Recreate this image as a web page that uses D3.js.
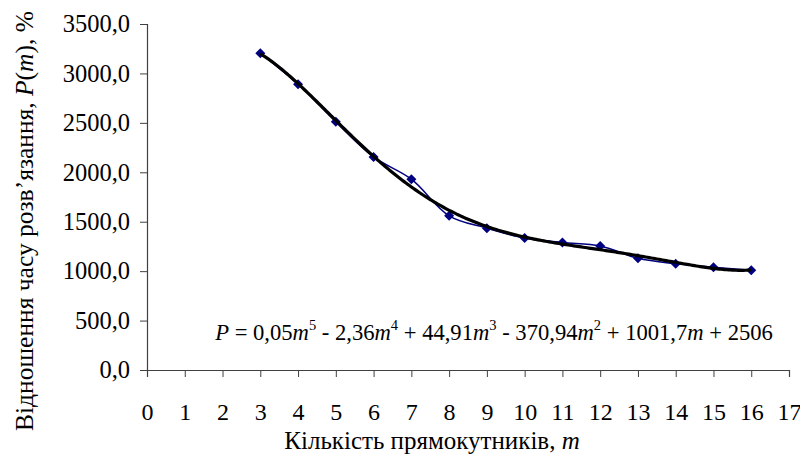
<!DOCTYPE html>
<html>
<head>
<meta charset="utf-8">
<script src="https://cdn.jsdelivr.net/npm/d3@7"></script>
<style>
  body { margin: 0; background: #fff; }
  .axis path, .axis line { stroke: #404040; }
</style>
</head>
<body>
<svg id="chart" width="800" height="457"></svg>
<script>
// data
const mValues = [3, 4, 5, 6, 7, 8, 9, 10, 11, 12, 13, 14, 15, 16];
const pValues = [3205, 2890, 2510, 2155, 1930, 1560, 1435, 1335, 1290, 1255, 1130, 1075, 1040, 1010];
const xTicks = d3.range(0, 18);
const yTicks = [0, 500, 1000, 1500, 2000, 2500, 3000, 3500];
const eqParts = [
  ['P', 'i'], [' = 0,05', ''], ['m', 'i'], ['5', 's'], [' - 2,36', ''], ['m', 'i'], ['4', 's'],
  [' + 44,91', ''], ['m', 'i'], ['3', 's'], [' - 370,94', ''], ['m', 'i'], ['2', 's'],
  [' + 1001,7', ''], ['m', 'i'], [' + 2506', '']
];

const FONT = 'Liberation Serif';
const svg = d3.select('#chart');
const fmt = d => d3.format('.1f')(d).replace('.', ',');

let x = d3.scaleLinear().domain([0, 17]).range([147, 789]),
  y = d3.scaleLinear().domain([0, 3500]).range([370, 24]);

// polynomial trend (order 5), least squares on scaled m
function polyfit(xs, ys, deg) {
  const c = 9.5, s = 6.5, n = deg + 1;
  let A = [], b = [];
  for (let i = 0; i < n; i++) { A.push(new Array(n).fill(0)); b.push(0); }
  xs.forEach((xv, k) => {
    const t = (xv - c) / s;
    for (let i = 0; i < n; i++) {
      b[i] += ys[k] * Math.pow(t, i);
      for (let j = 0; j < n; j++) A[i][j] += Math.pow(t, i + j);
    }
  });
  for (let i = 0; i < n; i++) {
    let p = i;
    for (let r = i + 1; r < n; r++) if (Math.abs(A[r][i]) > Math.abs(A[p][i])) p = r;
    [A[i], A[p]] = [A[p], A[i]]; [b[i], b[p]] = [b[p], b[i]];
    for (let r = i + 1; r < n; r++) {
      const f = A[r][i] / A[i][i];
      for (let j = i; j < n; j++) A[r][j] -= f * A[i][j];
      b[r] -= f * b[i];
    }
  }
  let coef = new Array(n).fill(0);
  for (let i = n - 1; i >= 0; i--) {
    let sum = b[i];
    for (let j = i + 1; j < n; j++) sum -= A[i][j] * coef[j];
    coef[i] = sum / A[i][i];
  }
  return m => coef.reduce((acc, cf, i) => acc + cf * Math.pow((m - c) / s, i), 0);
}
const trend = polyfit(mValues, pValues, 5);

// axes
svg.append('g')
  .attr('class', 'axis')
  .attr('transform', 'translate(147,0)')
  .call(d3.axisLeft(y).tickValues(yTicks).tickSize(7).tickFormat(fmt))
  .call(g => g.selectAll('text').attr('x', -17).attr('fill', '#000')
    .attr('font-family', FONT).attr('font-size', 24.5));

svg.append('g')
  .attr('class', 'axis')
  .attr('transform', 'translate(0,370)')
  .call(d3.axisBottom(x).tickValues(xTicks).tickSize(7).tickFormat(d3.format('d')))
  .call(g => g.selectAll('text').attr('y', 33).attr('fill', '#000')
    .attr('font-family', FONT).attr('font-size', 24));

svg.selectAll('.axis .domain').attr('stroke-width', 1.2);

const pts = mValues.map((m, i) => [m, pValues[i]]);

// data line, smoothed
svg.append('path')
  .datum(pts)
  .attr('fill', 'none')
  .attr('stroke', '#000080')
  .attr('stroke-width', 1.5)
  .attr('d', d3.line().x(d => x(d[0])).y(d => y(d[1])).curve(d3.curveCatmullRom));

// markers
svg.selectAll('.pt')
  .data(pts)
  .enter().append('path')
  .attr('class', 'pt')
  .attr('transform', d => `translate(${x(d[0])},${y(d[1])}) rotate(45)`)
  .attr('d', d3.symbol(d3.symbolSquare, 50))
  .attr('fill', '#000080');

// trendline
const tm = d3.range(3, 16.001, 0.05);
svg.append('path')
  .datum(tm)
  .attr('fill', 'none')
  .attr('stroke', '#000')
  .attr('stroke-width', 3.2)
  .attr('d', d3.line().x(d => x(d)).y(d => y(trend(d))));

// equation
let eq = svg.append('text')
  .attr('x', 494).attr('y', 340)
  .attr('text-anchor', 'middle')
  .attr('font-family', FONT)
  .attr('font-size', 22.6);
eqParts.forEach(([t, k], i) => {
  let sp = eq.append('tspan').text(t);
  if (k === 'i') sp.attr('font-style', 'italic');
  if (k === 's') sp.attr('font-size', 14.5).attr('dy', -10);
  if (i > 0 && eqParts[i - 1][1] === 's') sp.attr('dy', 10);
});

// axis titles
let xt = svg.append('text')
  .attr('x', 432).attr('y', 449)
  .attr('text-anchor', 'middle')
  .attr('font-family', FONT)
  .attr('font-size', 25);
xt.append('tspan').text('Кількість прямокутників, ');
xt.append('tspan').attr('font-style', 'italic').text('m');

let yt = svg.append('text')
  .attr('transform', 'translate(33,221) rotate(-90)')
  .attr('text-anchor', 'middle')
  .attr('font-family', FONT)
  .attr('font-size', 25.5);
yt.append('tspan').text('Відношення часу розв’язання, ');
yt.append('tspan').attr('font-style', 'italic').text('P');
yt.append('tspan').text('(');
yt.append('tspan').attr('font-style', 'italic').text('m');
yt.append('tspan').text('), %');
</script>
</body>
</html>
